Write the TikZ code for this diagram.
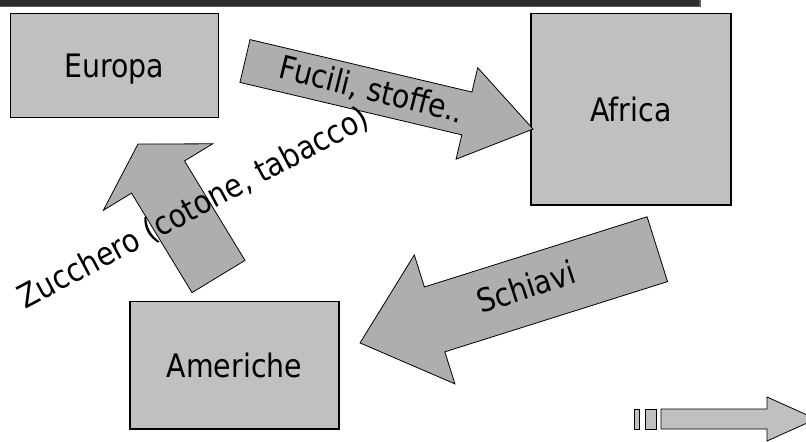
\documentclass[tikz,border=0pt]{standalone}
\usepackage{fontspec}
\setmainfont{DejaVu Sans}[FakeStretch=0.88]
\definecolor{boxgray}{HTML}{C0C0C0}
\definecolor{arrowgray}{HTML}{AEAEAE}
\definecolor{barfill}{HTML}{2B2B2B}
\definecolor{baredge}{HTML}{5A5A5A}
\begin{document}
\begin{tikzpicture}[x=0.75pt,y=-0.75pt,
  lblfont/.style={font=\fontsize{24.2}{28}\selectfont, text height=17.7pt, text depth=0pt},
  box/.style={draw=black, line width=1pt, fill=boxgray, lblfont, inner sep=0pt},
  lbl/.style={lblfont, inner sep=0pt},
  blockarrow/.style={draw=black, line width=0.6pt, fill=arrowgray, line join=miter},
  stripe/.style={draw=black, line width=0.6pt, fill=boxgray, line join=miter}]
\useasboundingbox (0,0) rectangle (806,442);
\clip (0,0) rectangle (806,442);
% top bar
\draw[fill=barfill, draw=baredge, line width=0.8pt] (-2,-2) rectangle (700,6.5);
% boxes
\node[box, minimum width=156pt, minimum height=78pt] (europa) at (114.3,65.3) {Europa};
\node[box, minimum width=150pt, minimum height=143.5pt] (africa) at (631,109.4) {Africa};
\node[box, minimum width=156.75pt, minimum height=95.6pt] (americhe) at (234.5,365.3) {Americhe};
% Europa -> Africa
\begin{scope}[shift={(245,61)}, rotate=-13.3]
\draw[blockarrow] (0,-22) -- (228,-22) -- (228,-47) -- (296,0) -- (228,47) -- (228,22) -- (0,22) -- cycle;
\end{scope}
% Americhe -> Europa
\begin{scope}[shift={(218.5,276.5)}, rotate=121.3]
\draw[blockarrow] (0,-31) -- (116.4,-31) -- (116.4,-64) -- (155,0) -- (116.4,64) -- (116.4,31) -- (0,31) -- cycle;
\end{scope}
% Africa -> Americhe
\begin{scope}[shift={(657.3,249.2)}, rotate=197.5]
\draw[blockarrow] (0,-34) -- (233.5,-34) -- (233.5,-67.6) -- (311.7,0) -- (233.5,67.6) -- (233.5,34) -- (0,34) -- cycle;
\end{scope}
% labels
\node[lbl, rotate=-14] (fucili) at (372,89) {Fucili, stoffe..};
\node[lbl, rotate=18] (schiavi) at (526,287) {Schiavi};
\node[lbl, rotate=28] (zucchero) at (193,207) {Zucchero (cotone, tabacco)};
% striped arrow bottom right
\draw[stripe] (634,409) rectangle (639,429);
\draw[stripe] (645,409) rectangle (656,429);
\draw[stripe] (661,409) -- (767,409) -- (767,397) -- (816,419) -- (767,441) -- (767,429) -- (661,429) -- cycle;
\end{tikzpicture}
\end{document}
